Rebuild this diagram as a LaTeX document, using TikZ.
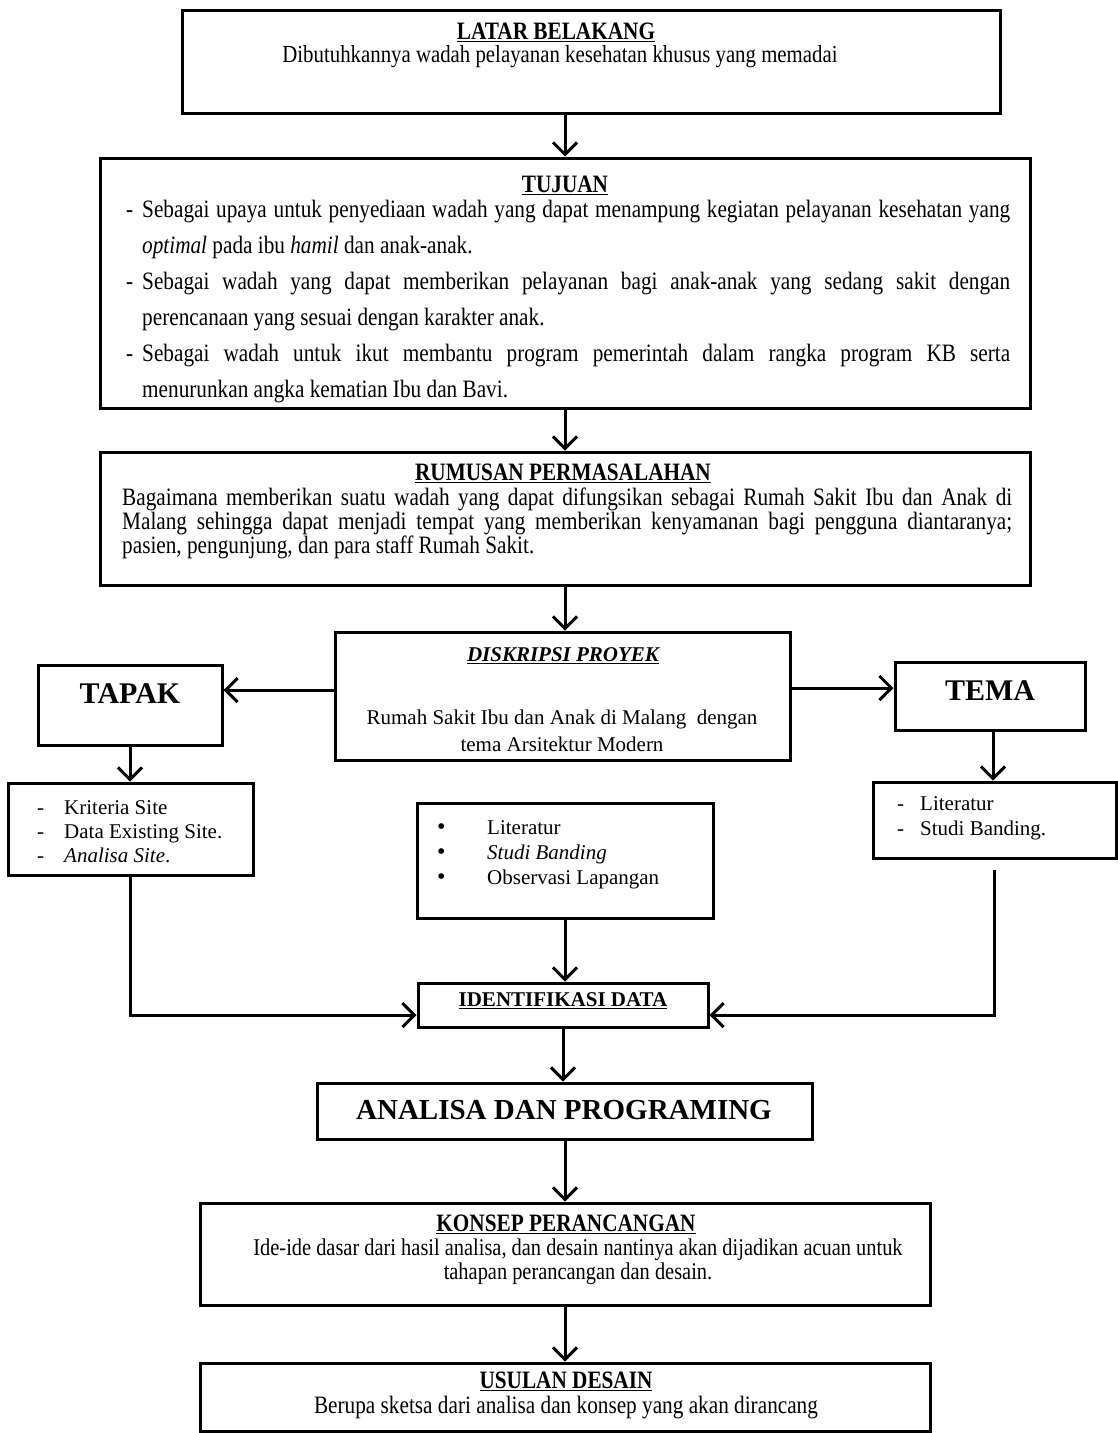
\documentclass[tikz,border=0pt]{standalone}
\usepackage{fontspec}
\setmainfont{Liberation Serif}
\newfontfamily\narrowfont[FakeStretch=0.85]{Liberation Serif}
\usetikzlibrary{arrows.meta,positioning}

\newcommand{\bigbullet}{\raisebox{0pt}[0pt][0pt]{\fontsize{24}{0}\selectfont\textbullet}}

\begin{document}
\begin{tikzpicture}[x=1pt, y=-1pt,
    box/.style={draw, line width=3pt, rectangle, inner sep=0pt},
    txt/.style={inner sep=0pt, align=center, font=\fontsize{21}{25}\selectfont},
    ntxt/.style={inner sep=0pt, align=center, font=\narrowfont\fontsize{25}{24}\selectfont},
    head/.style={inner sep=0pt, font=\narrowfont\fontsize{25}{24}\selectfont\bfseries},
    big/.style={inner sep=0pt, font=\fontsize{30}{34}\selectfont\bfseries},
    arr/.style={line width=3pt, -{Straight Barb[length=12pt, width=24pt, line width=3pt]}}]

  \useasboundingbox (0,0) rectangle (1118,1433);

  % boxes
  \node[box, minimum width=818pt, minimum height=103pt] (latar) at (591,61.5) {};
  \node[box, minimum width=930pt, minimum height=250pt] (tujuan) at (565,283) {};
  \node[box, minimum width=930pt, minimum height=133pt] (rumusan) at (565,518.5) {};
  \node[box, minimum width=455pt, minimum height=128pt] (diskripsi) at (562.5,696) {};
  \node[box, minimum width=184pt, minimum height=80pt] (tapak) at (130,705) {};
  \node[box, minimum width=190pt, minimum height=68pt] (tema) at (990,696) {};
  \node[box, minimum width=245pt, minimum height=92pt] (tapaklist) at (130.5,829) {};
  \node[box, minimum width=243pt, minimum height=76pt] (temalist) at (994.5,820) {};
  \node[box, minimum width=296pt, minimum height=115pt] (midlist) at (565,860.5) {};
  \node[box, minimum width=290pt, minimum height=44pt] (ident) at (563,1005) {};
  \node[box, minimum width=495pt, minimum height=56pt] (analisa) at (564.5,1111) {};
  \node[box, minimum width=730pt, minimum height=102pt] (konsep) at (565,1254) {};
  \node[box, minimum width=730pt, minimum height=68pt] (usulan) at (565,1397) {};

  % texts
  \node[head] (latarhead) at (556,32) {\underline{LATAR BELAKANG}};
  \node[ntxt, font=\narrowfont\fontsize{24.5}{24}\selectfont] (latartext) at (560,57) {Dibutuhkannya wadah pelayanan kesehatan khusus yang memadai};

  \node[head] (tujuanhead) at (565,185) {\underline{TUJUAN}};
  \node[inner sep=0pt, anchor=north west, text width=868pt, align=justify,
        font=\narrowfont\fontsize{25}{36}\selectfont] (tujuantext) at (142,200)
    {\hyphenpenalty=10000\exhyphenpenalty=10000
     \noindent\llap{-\hspace{9pt}}Sebagai upaya untuk penyediaan wadah yang dapat menampung kegiatan pelayanan kesehatan yang\linebreak \textit{optimal} pada ibu \textit{hamil} dan anak-anak.\par
     \noindent\llap{-\hspace{9pt}}Sebagai wadah yang dapat memberikan pelayanan bagi anak-anak yang sedang sakit dengan\linebreak perencanaan yang sesuai dengan karakter anak.\par
     \noindent\llap{-\hspace{9pt}}Sebagai wadah untuk ikut membantu program pemerintah dalam rangka program KB serta\linebreak menurunkan angka kematian Ibu dan Bavi.\par};

  \node[head] (rumusanhead) at (563,473) {\underline{RUMUSAN PERMASALAHAN}};
  \node[inner sep=0pt, anchor=north west, text width=890pt, align=justify,
        font=\narrowfont\fontsize{25}{24}\selectfont] (rumusantext) at (122,488)
    {\hyphenpenalty=10000\exhyphenpenalty=10000
     Bagaimana memberikan suatu wadah yang dapat difungsikan sebagai Rumah Sakit Ibu dan Anak di\linebreak Malang sehingga dapat menjadi tempat yang memberikan kenyamanan bagi pengguna diantaranya;\linebreak pasien, pengunjung, dan para staff Rumah Sakit.\par};

  \node[txt, font=\fontsize{21}{25}\selectfont\bfseries\itshape] (diskripsihead) at (563,656) {\underline{DISKRIPSI PROYEK}};
  \node[txt, font=\fontsize{21}{27}\selectfont] (diskripsitext) at (562,731) {Rumah Sakit Ibu dan Anak di Malang \ dengan\\tema Arsitektur Modern};

  \node[big] (tapaktext) at (130,694) {TAPAK};
  \node[big] (tematext) at (990,691) {TEMA};

  \node[txt, align=left, anchor=west, font=\fontsize{21}{24}\selectfont] (tapakitems) at (37,832)
    {\makebox[27pt][l]{-}Kriteria Site\\ \makebox[27pt][l]{-}Data Existing Site.\\ \makebox[27pt][l]{-}\textit{Analisa Site}.};
  \node[txt, align=left, anchor=west, font=\fontsize{21}{25}\selectfont] (temaitems) at (897,818)
    {\makebox[23pt][l]{-}Literatur\\ \makebox[23pt][l]{-}Studi Banding.};
  \node[txt, align=left, anchor=west, font=\fontsize{21}{25}\selectfont] (miditems) at (437,855)
    {\makebox[50pt][l]{\bigbullet}Literatur\\
     \makebox[50pt][l]{\bigbullet}\textit{Studi Banding}\\
     \makebox[50pt][l]{\bigbullet}Observasi Lapangan};

  \node[txt, font=\fontsize{21}{25}\selectfont\bfseries] (identtext) at (563,1001) {\underline{IDENTIFIKASI DATA}};
  \node[big, font=\fontsize{29}{34}\selectfont\bfseries] (analisatext) at (564,1110) {ANALISA DAN PROGRAMING};

  \node[head] (konsephead) at (566,1224) {\underline{KONSEP PERANCANGAN}};
  \node[ntxt, font=\narrowfont\fontsize{24}{24}\selectfont] (konseptext) at (578,1262) {Ide-ide dasar dari hasil analisa, dan desain nantinya akan dijadikan acuan untuk\\tahapan perancangan dan desain.};

  \node[head] (usulanhead) at (566,1381) {\underline{USULAN DESAIN}};
  \node[ntxt] (usulantext) at (566,1408) {Berupa sketsa dari analisa dan konsep yang akan dirancang};

  % connectors
  \draw[arr] (latar.south -| tujuan.north) -- (tujuan.north);
  \draw[arr] (tujuan.south) -- (rumusan.north);
  \draw[arr] (rumusan.south) -- (rumusan.south |- diskripsi.north);
  \draw[arr] ([yshift=6pt]diskripsi.west) -- ([yshift=6pt]diskripsi.west -| tapak.east);
  \draw[arr] ([yshift=8pt]diskripsi.east) -- ([yshift=8pt]diskripsi.east -| tema.west);
  \draw[arr] (tapak.south) -- (tapak.south |- tapaklist.north);
  \draw[arr] ([xshift=3pt]tema.south) -- ([xshift=3pt]tema.south |- temalist.north);
  \draw[arr] (midlist.south) -- (midlist.south |- ident.north);
  \draw[arr] (tapaklist.south) |- ([yshift=-10pt]ident.west);
  \draw[arr] ([yshift=-10pt]temalist.south) |- ([yshift=-10pt]ident.east);
  \draw[arr] (ident.south) -- (ident.south |- analisa.north);
  \draw[arr] (analisa.south -| konsep.north) -- (konsep.north);
  \draw[arr] (konsep.south) -- (usulan.north);
\end{tikzpicture}
\end{document}
